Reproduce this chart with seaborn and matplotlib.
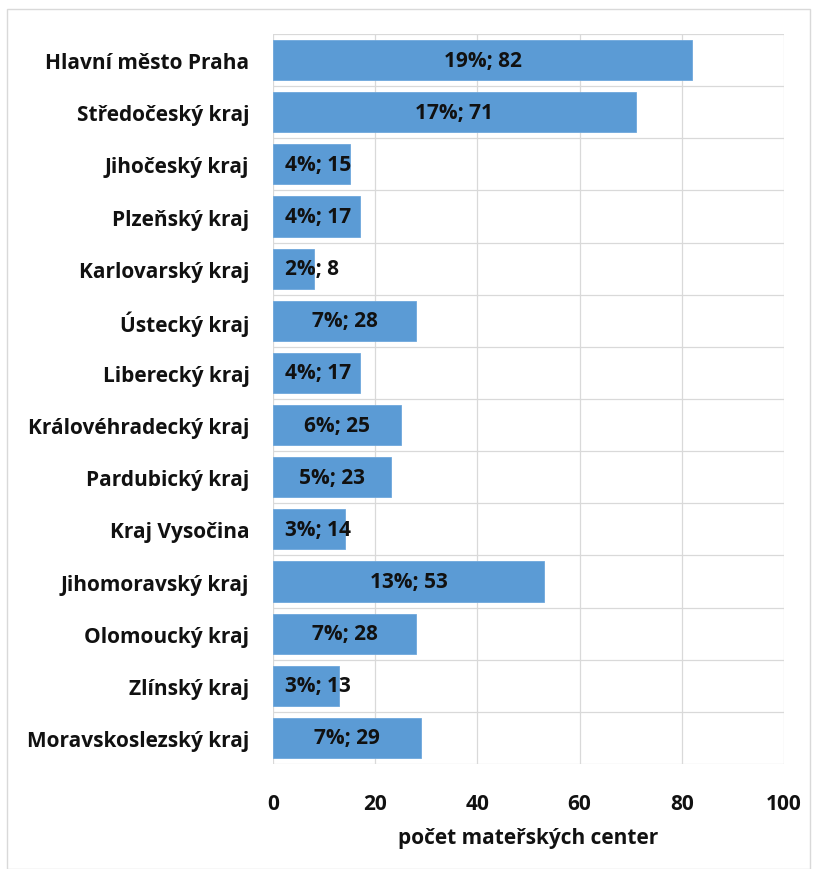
import matplotlib
matplotlib.use("Agg")
import matplotlib.pyplot as plt
import seaborn as sns
import pandas as pd
from matplotlib.patches import Rectangle

regions = ["Hlavní město Praha", "Středočeský kraj", "Jihočeský kraj", "Plzeňský kraj",
           "Karlovarský kraj", "Ústecký kraj", "Liberecký kraj", "Královéhradecký kraj",
           "Pardubický kraj", "Kraj Vysočina", "Jihomoravský kraj", "Olomoucký kraj",
           "Zlínský kraj", "Moravskoslezský kraj"]
counts = [82, 71, 15, 17, 8, 28, 17, 25, 23, 14, 53, 28, 13, 29]
percents = [19, 17, 4, 4, 2, 7, 4, 6, 5, 3, 13, 7, 3, 7]
xticks = [0, 20, 40, 60, 80, 100]
xlabel = "počet mateřských center"

sns.set_theme(style="white")
plt.rcParams['font.family'] = ['Open Sans', 'DejaVu Sans']

df = pd.DataFrame({"kraj": regions, "pocet": counts})

W, H = 815, 870
L, R, T, B = 273, 784, 35, 765
fig = plt.figure(figsize=(W / 100, H / 100), dpi=100)
ax = fig.add_axes([L / W, 1 - B / H, (R - L) / W, (B - T) / H])

sns.barplot(data=df, x="pocet", y="kraj", orient="h", color="#5B9BD5",
            saturation=1, width=0.77, ax=ax, edgecolor="#6FA8DC", linewidth=0.6, zorder=3)

FS = 15
TXT = "#111111"
ax.set_xlim(0, 100)
ax.set_ylim(len(regions) - 0.5, -0.5)
ax.set_xticks(xticks)
ax.set_xticklabels([str(t) for t in xticks], fontsize=FS, fontweight="bold", color=TXT)
ax.set_yticks(range(len(regions)))
ax.set_yticklabels(regions, fontsize=FS, fontweight="bold", color=TXT)
ax.tick_params(axis="y", length=0, pad=17)
ax.tick_params(axis="x", length=0, pad=21)
ax.set_ylabel("")
ax.set_xlabel(xlabel, fontsize=FS, fontweight="bold", labelpad=9, color=TXT)

# grid
for t in xticks:
    ax.axvline(t, color="#D9D9D9", lw=0.9, zorder=0)
for b in [i - 0.5 for i in range(len(regions) + 1)]:
    ax.axhline(b, color="#D9D9D9", lw=0.9, zorder=0)
for s in ax.spines.values():
    s.set_visible(False)

for i, (c, p) in enumerate(zip(counts, percents)):
    if c > 20:
        ax.text(c / 2, i, f"{p}%; {c}", ha="center", va="center",
                fontsize=FS, fontweight="bold", color=TXT, zorder=4)
    else:
        ax.text(2.4, i, f"{p}%; {c}", ha="left", va="center",
                fontsize=FS, fontweight="bold", color=TXT, zorder=4)

fig.patches.append(Rectangle((7 / W, 0.0), 803 / W, 1 - 10 / H, transform=fig.transFigure,
                             fill=False, edgecolor="#D9D9D9", lw=1))

fig.savefig("out.png", dpi=100)
